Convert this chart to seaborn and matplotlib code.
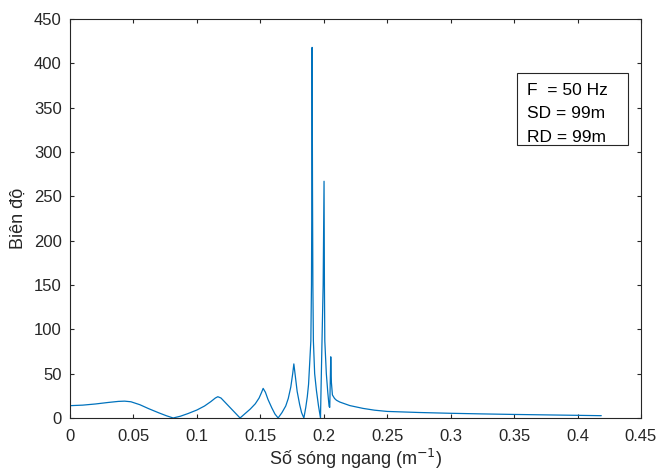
import matplotlib
matplotlib.use("Agg")
import matplotlib.pyplot as plt
from matplotlib.patches import Rectangle
import seaborn as sns

# wavenumber (1/m) and amplitude
wavenumber = [
    0.000, 0.010, 0.020, 0.030, 0.038, 0.043, 0.048, 0.055, 0.062, 0.070, 0.076, 0.0813,
    0.087, 0.093, 0.100, 0.106, 0.111, 0.1145, 0.1165, 0.119, 0.123, 0.127, 0.131, 0.134,
    0.138, 0.142, 0.146, 0.149, 0.151, 0.1522, 0.154, 0.156, 0.159, 0.1615, 0.164,
    0.167, 0.170, 0.172, 0.174, 0.1755, 0.1764, 0.1775, 0.179, 0.181, 0.1825, 0.1843,
    0.1858, 0.1870, 0.1880, 0.1890, 0.1898, 0.1903, 0.1906, 0.1908, 0.1911, 0.1914,
    0.1918, 0.1928, 0.1942, 0.1958, 0.1974,
    0.1978, 0.1986, 0.1995, 0.2002, 0.2005, 0.2008, 0.2020, 0.2032, 0.2042, 0.2047,
    0.2055, 0.2060, 0.2068, 0.2085, 0.2100, 0.2126, 0.2205, 0.2310, 0.2400, 0.2500,
    0.2750, 0.3000, 0.3250, 0.3500, 0.3750, 0.4000, 0.4187,
]
amplitude = [
    13.9, 14.5, 15.8, 17.5, 18.7, 19.0, 18.3, 15.0, 10.5, 5.8, 2.5, 0.0,
    2.0, 5.0, 9.0, 13.5, 18.5, 22.5, 24.0, 22.5, 16.5, 10.5, 4.5, 0.0,
    5.0, 10.0, 16.0, 22.5, 29.0, 33.4, 29.0, 21.0, 11.5, 4.5, 0.0,
    6.0, 13.5, 22.0, 35.0, 50.0, 61.0, 48.0, 30.0, 15.0, 6.0, 0.0,
    12.0, 24.0, 38.0, 65.0, 87.0, 150.0, 260.0, 418.0, 260.0, 150.0,
    87.0, 50.0, 31.0, 14.0, 0.0,
    30.0, 87.0, 150.0, 267.0, 150.0, 87.0, 50.0, 28.0, 13.0, 12.0,
    69.0, 40.0, 26.0, 22.0, 20.0, 18.0, 14.0, 10.8, 8.8, 7.4,
    6.2, 5.3, 4.6, 4.0, 3.5, 3.0, 2.6,
]

x_ticks = [0, 0.05, 0.1, 0.15, 0.2, 0.25, 0.3, 0.35, 0.4, 0.45]
x_tick_labels = ["0", "0.05", "0.1", "0.15", "0.2", "0.25", "0.3", "0.35", "0.4", "0.45"]
y_ticks = [0, 50, 100, 150, 200, 250, 300, 350, 400, 450]

info_lines = ["F  = 50 Hz", "SD = 99m", "RD = 99m"]

sns.set_style("ticks")
plt.rcParams["font.family"] = ["Liberation Sans", "DejaVu Sans"]

axis_color = "#262626"
fig = plt.figure(figsize=(6.6, 4.73), dpi=100)
ax = fig.add_axes([0.1061, 0.1163, 0.8651, 0.8435])

sns.lineplot(x=wavenumber, y=amplitude, sort=False, estimator=None,
             color="#0072BD", linewidth=0.9, ax=ax)

ax.set_xlim(0, 0.45)
ax.set_ylim(0, 450)
ax.set_xticks(x_ticks)
ax.set_xticklabels(x_tick_labels)
ax.set_yticks(y_ticks)

for side in ["left", "right", "top", "bottom"]:
    ax.spines[side].set_visible(True)
    ax.spines[side].set_color(axis_color)
    ax.spines[side].set_linewidth(0.8)

ax.tick_params(direction="in", length=3.2, width=0.8, color=axis_color,
               labelcolor=axis_color, labelsize=12, top=True, right=True, pad=6)
ax.tick_params(axis="x", pad=8)

ax.set_xlabel("Số sóng ngang (m$^{-1}$)", fontsize=13, color=axis_color, labelpad=2)
ax.set_ylabel("Biên độ", fontsize=13, color=axis_color, labelpad=5)

# annotation box (MATLAB-style textbox)
ax.add_patch(Rectangle((0.783, 0.684), 0.194, 0.181, transform=ax.transAxes,
                       facecolor="white", edgecolor=axis_color, linewidth=0.8, zorder=5))
for i, line in enumerate(info_lines):
    ax.text(0.800, 0.822 - i * 0.059, line, transform=ax.transAxes,
            ha="left", va="center", fontsize=12.5, color="black", zorder=6)

fig.savefig("out.png", dpi=100)
plt.close(fig)
